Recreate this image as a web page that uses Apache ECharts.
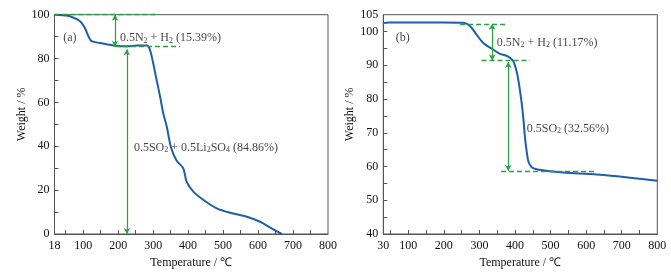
<!DOCTYPE html>
<html><head><meta charset="utf-8">
<script src="https://cdn.jsdelivr.net/npm/echarts@6/dist/echarts.min.js"></script>
<style>html,body{margin:0;padding:0;background:#fff}#c{width:671px;height:279px}</style>
</head><body><div id="c"></div>
<script>
// ---- Panel (a) data ----
const tempA = [18, 40, 62, 91, 105, 115, 124, 148, 186, 225, 253, 282, 291, 300, 310, 320, 329, 339, 351, 367, 386, 396, 415, 444, 482, 520, 568, 606, 634, 668];
const weightA = [100, 99.8, 99.3, 97, 93.9, 90.2, 87.9, 87.1, 86, 85.6, 85.9, 86, 84, 78, 70.2, 62.6, 55, 48.9, 39.6, 33.5, 30, 23.8, 19.3, 15.5, 11.7, 9.7, 7.9, 5.6, 3.0, 0];
// ---- Panel (b) data ----
const tempB = [30, 45, 100, 200, 255, 274, 292, 311, 335, 358, 381, 395, 405, 412, 419, 424, 428, 433, 438, 447, 461, 500, 536, 630, 723, 800];
const weightB = [102.5, 102.7, 102.7, 102.7, 102.6, 101.6, 99.1, 96.6, 94.9, 93.4, 92.6, 91.3, 88, 84, 78.7, 73.8, 68.8, 64.4, 61.4, 59.8, 59.2, 58.6, 58.2, 57.6, 56.7, 55.8];

// tick labels
const xLabelsA = [18, 100, 200, 300, 400, 500, 600, 700, 800];
const xTicksA = [50, 100, 150, 200, 250, 300, 350, 400, 450, 500, 550, 600, 650, 700, 750];
const yLabelsA = [0, 20, 40, 60, 80, 100];
const yTicksA = [10, 20, 30, 40, 50, 60, 70, 80, 90];
const xLabelsB = [30, 100, 200, 300, 400, 500, 600, 700, 800];
const xTicksB = [50, 100, 150, 200, 250, 300, 350, 400, 450, 500, 550, 600, 650, 700, 750];
const yLabelsB = [40, 50, 60, 70, 80, 90, 100, 105];
const yTicksB = [45, 50, 55, 60, 65, 70, 75, 80, 85, 90, 95, 100];

// annotations: dashed lines [x1, x2, y], arrows [x, y1, y2]
const dashA = [[18, 311, 100], [191, 377, 85.4]];
const arrowA = [[191, 100, 85.4], [225, 84.2, 0]];
const dashB = [[246, 381, 102.3], [306, 442, 91.4], [361, 630, 58.7]];
const arrowB = [[336, 102.3, 91.4], [381, 91, 58.7]];
// annotation texts [x, y, text]
const textA = [[43, 89.5, '(a)'], [205, 89.5, '0.5N{s|2} + H{s|2} (15.39%)'], [245, 39.5, '0.5SO{s|2} + 0.5Li{s|2}SO{s|4} (84.86%)']];
const textB = [[65, 98.0, '(b)'], [349, 96.8, '0.5N{s|2} + H{s|2} (11.17%)'], [433, 71.3, '0.5SO{s|2} (32.56%)']];

const FONT = "Liberation Serif, Times New Roman, serif";
const GREEN = '#2aa043';
const BLUE = '#1f5ea8';
const AX = '#555';
const TXT = '#111';

function zip(xs, ys) { return xs.map((x, i) => [x, ys[i]]); }

function markLines(dashes, arrows) {
  const d = [];
  dashes.forEach(([x1, x2, y]) => d.push([
    { coord: [x1, y], symbol: 'none', lineStyle: { type: [5, 3], color: GREEN, width: 1.3 } },
    { coord: [x2, y], symbol: 'none' }
  ]));
  arrows.forEach(([x, y1, y2]) => d.push([
    { coord: [x, y1], symbol: 'arrow', symbolSize: [5, 6], lineStyle: { type: 'solid', color: GREEN, width: 1.2 } },
    { coord: [x, y2], symbol: 'arrow', symbolSize: [5, 6] }
  ]));
  return { silent: true, animation: false, label: { show: false }, emphasis: { disabled: true }, data: d, symbolSize: 6 };
}

function xAxis(idx, min, labels, ticks) {
  return {
    type: 'value', gridIndex: idx, min: min, max: 800,
    name: 'Temperature / ℃', nameLocation: 'middle', nameGap: 22,
    nameTextStyle: { fontFamily: FONT, fontSize: 12, color: TXT },
    axisLine: { show: true, lineStyle: { color: AX, width: 1 } },
    axisTick: { show: true, inside: true, length: 4, customValues: ticks, lineStyle: { color: AX } },
    axisLabel: { customValues: labels, fontFamily: FONT, fontSize: 12, color: TXT, margin: 6 },
    splitLine: { show: false }
  };
}
function yAxis(idx, min, max, labels, ticks) {
  return {
    type: 'value', gridIndex: idx, min: min, max: max,
    name: 'Weight / %', nameLocation: 'middle', nameGap: 27,
    nameTextStyle: { fontFamily: FONT, fontSize: 12, color: TXT, padding: [0, 0, 0, 20] },
    axisLine: { show: true, lineStyle: { color: AX, width: 1 } },
    axisTick: { show: true, inside: true, length: 4, customValues: ticks, lineStyle: { color: AX } },
    axisLabel: { customValues: labels, fontFamily: FONT, fontSize: 12, color: TXT, margin: 5 },
    splitLine: { show: false }
  };
}
function textSeries(idx, items) {
  return {
    type: 'scatter', xAxisIndex: idx, yAxisIndex: idx, symbolSize: 0, silent: true,
    itemStyle: { color: 'rgba(0,0,0,0)' },
    data: items.map(([x, y, t]) => ({ value: [x, y], label: { formatter: t } })),
    label: {
      show: true, position: 'right', distance: 0, fontFamily: FONT, fontSize: 12, color: TXT, lineHeight: 14,
      rich: { s: { fontFamily: FONT, fontSize: 8, lineHeight: 6, verticalAlign: 'bottom', color: TXT } }
    },
    z: 5
  };
}

const chart = echarts.init(document.getElementById('c'), null, { renderer: 'canvas' });
chart.setOption({
  animation: false,
  backgroundColor: '#fff',
  textStyle: { fontFamily: FONT },
  grid: [
    { left: 54.5, right: 343, top: 14.7, bottom: 45, show: true, borderColor: AX, borderWidth: 1 },
    { left: 383.3, right: 13.7, top: 14.7, bottom: 45, show: true, borderColor: AX, borderWidth: 1 }
  ],
  xAxis: [xAxis(0, 18, xLabelsA, xTicksA), xAxis(1, 30, xLabelsB, xTicksB)],
  yAxis: [yAxis(0, 0, 100, yLabelsA, yTicksA), yAxis(1, 40, 105, yLabelsB, yTicksB)],
  series: [
    { type: 'line', xAxisIndex: 0, yAxisIndex: 0, data: zip(tempA, weightA), smooth: 0.3, symbol: 'none',
      lineStyle: { color: BLUE, width: 2 }, z: 3, markLine: markLines(dashA, arrowA) },
    { type: 'line', xAxisIndex: 1, yAxisIndex: 1, data: zip(tempB, weightB), smooth: 0.3, symbol: 'none',
      lineStyle: { color: BLUE, width: 2 }, z: 3, markLine: markLines(dashB, arrowB) },
    textSeries(0, textA),
    textSeries(1, textB)
  ]
});
</script></body></html>
